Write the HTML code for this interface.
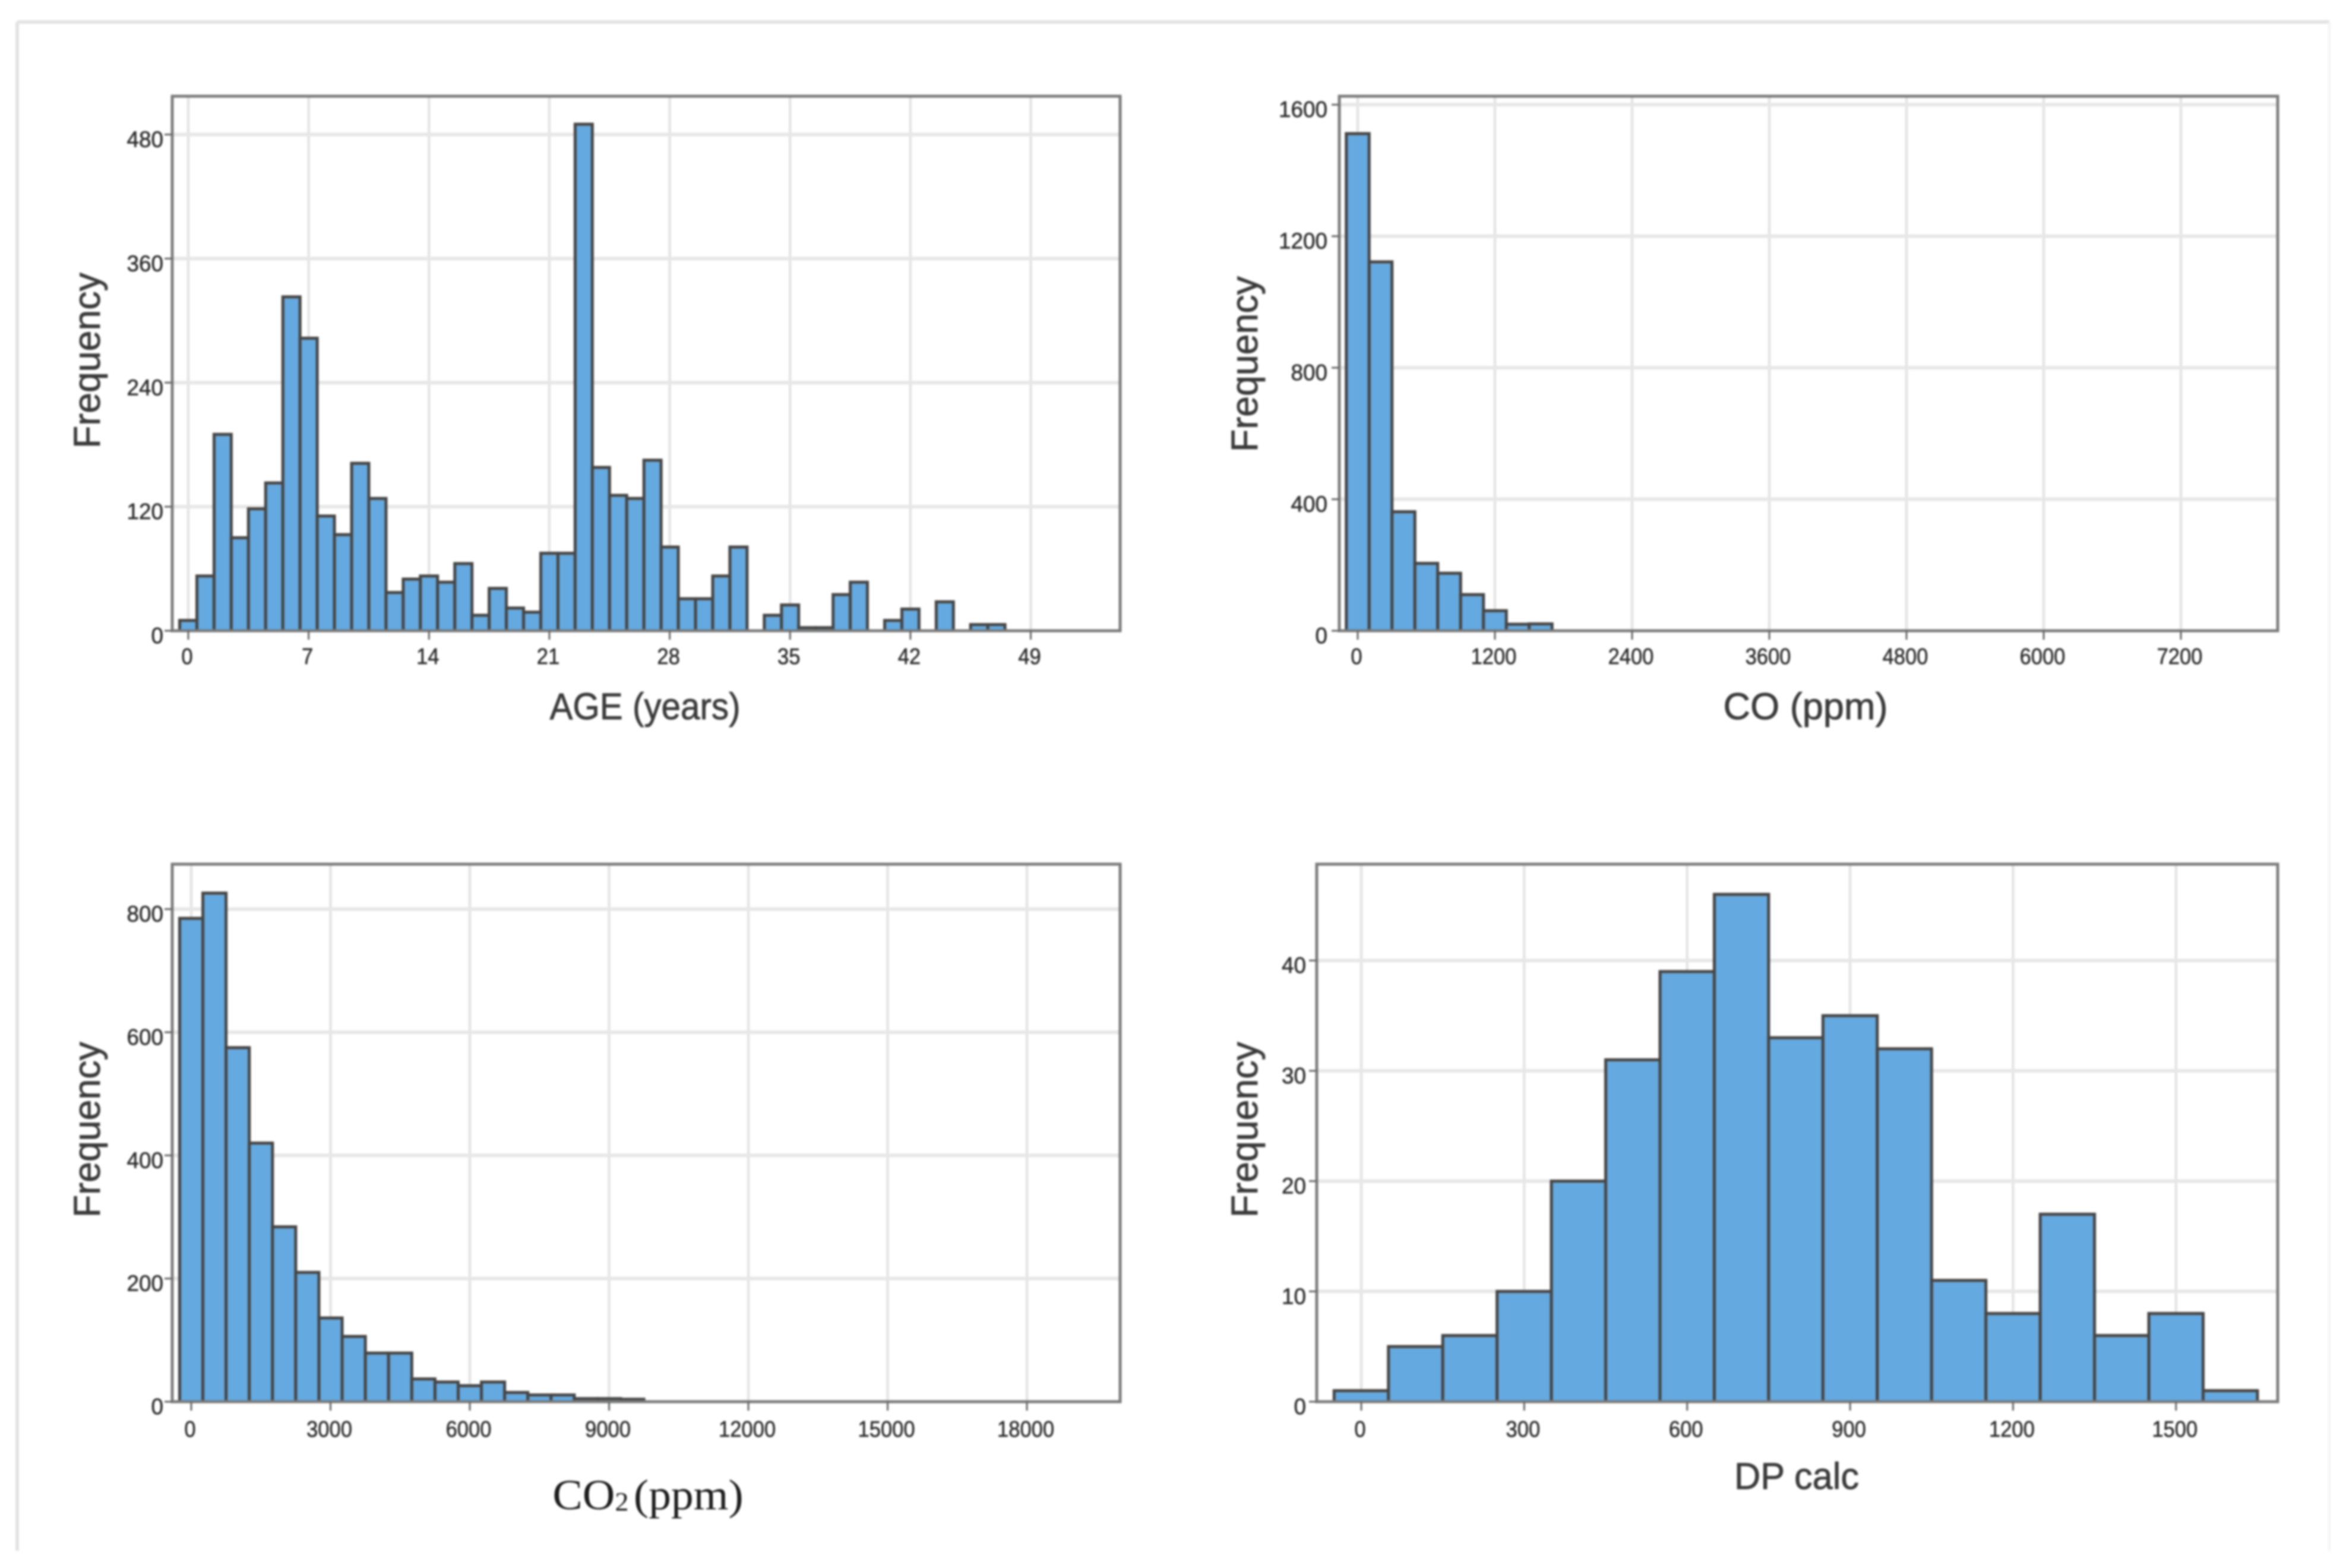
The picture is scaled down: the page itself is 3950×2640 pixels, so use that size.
<!DOCTYPE html>
<html lang="en">
<head>
<meta charset="utf-8">
<title>Histograms of AGE, CO, CO2 and DP calc</title>
<style>
html,body{margin:0;padding:0;background:#fff;width:3950px;height:2640px;overflow:hidden}
svg{display:block;filter:blur(1.7px)}
text{font-family:"Liberation Sans",sans-serif;fill:#333}
.title{font-size:63px;fill:#3a3a3a;stroke:#3a3a3a;stroke-width:.8px}
.serif{font-family:"Liberation Serif",serif;font-size:72px;fill:#1c1c1c;word-spacing:-10px}
.tick{font-size:38px;fill:#2c2c2c;stroke:#2c2c2c;stroke-width:.6px}
</style>
</head>
<body>
<svg id="figure" xmlns="http://www.w3.org/2000/svg" width="3950" height="2640" viewBox="0 0 3950 2640">
  <g>
    <line x1="29" y1="37" x2="3922" y2="37" stroke="#e3e3e3" stroke-width="6"/>
    <line x1="29" y1="37" x2="29" y2="2611" stroke="#e3e3e3" stroke-width="6"/>
    <line x1="3922" y1="37" x2="3922" y2="2611" stroke="#f4f4f4" stroke-width="4"/>
  </g>

  <g id="panel-age"></g>
  <g id="panel-co"></g>
  <g id="panel-co2"></g>
  <g id="panel-dp"></g>

  <text class="title" transform="translate(168,607) rotate(-90)" text-anchor="middle" textLength="296" lengthAdjust="spacingAndGlyphs">Frequency</text>
  <text class="title" x="1086" y="1211" text-anchor="middle" textLength="321" lengthAdjust="spacingAndGlyphs">AGE (years)</text>

  <text class="title" transform="translate(2117,613) rotate(-90)" text-anchor="middle" textLength="296" lengthAdjust="spacingAndGlyphs">Frequency</text>
  <text class="title" x="3040" y="1211" text-anchor="middle" textLength="277" lengthAdjust="spacingAndGlyphs">CO (ppm)</text>

  <text class="title" transform="translate(168,1902) rotate(-90)" text-anchor="middle" textLength="296" lengthAdjust="spacingAndGlyphs">Frequency</text>
  <text class="serif" transform="translate(1091,2541) scale(1.05,1)" text-anchor="middle">CO<tspan font-size="44" dy="2">2</tspan><tspan dy="-2"> (ppm)</tspan></text>

  <text class="title" transform="translate(2117,1902) rotate(-90)" text-anchor="middle" textLength="296" lengthAdjust="spacingAndGlyphs">Frequency</text>
  <text class="title" x="3025" y="2507" text-anchor="middle" textLength="210" lengthAdjust="spacingAndGlyphs">DP calc</text>
</svg>

<script>
// ----- AGE (years) -----
const ageBins = [0,1,2,3,4,5,6,7,8,9,10,11,12,13,14,15,16,17,18,19,20,21,22,23,24,25,26,27,28,29,30,31,32,33,34,35,36,37,38,39,40,41,42,43,44,45,46,47,48,49,50,51,52,53];
const ageCounts = [10,53,190,90,118,143,323,283,111,93,162,128,37,50,53,47,65,15,41,22,18,75,75,490,158,131,128,165,81,31,31,53,81,0,15,25,3,3,35,47,0,10,21,0,28,0,6,6,0,0,0,0,0,0];
const ageXTicks = [0,7,14,21,28,35,42,49];
const ageYTicks = [0,120,240,360,480];

// ----- CO (ppm) -----
const coBins = [0,200,400,600,800,1000,1200,1400,1600,1800,2000,2200,2400,2600,2800,3000,3200,3400,3600,3800,4000,4200,4400,4600,4800,5000,5200,5400,5600,5800,6000,6200,6400,6600,6800,7000,7200,7400,7600,7800];
const coCounts = [1512,1122,362,205,175,110,61,20,21,0,0,0,0,0,0,0,0,0,0,0,0,0,0,0,0,0,0,0,0,0,0,0,0,0,0,0,0,0,0,0];
const coXTicks = [0,1200,2400,3600,4800,6000,7200];
const coYTicks = [0,400,800,1200,1600];

// ----- CO2 (ppm) -----
const co2Bins = [0,500,1000,1500,2000,2500,3000,3500,4000,4500,5000,5500,6000,6500,7000,7500,8000,8500,9000,9500,10000,10500,11000,11500,12000,12500,13000,13500,14000,14500,15000,15500,16000,16500,17000,17500,18000,18500,19000,19500];
const co2Counts = [785,826,575,420,284,210,136,106,79,79,37,32,26,32,15,11,11,5,5,4,0,0,0,0,0,0,0,0,0,0,0,0,0,0,0,0,0,0,0,0];
const co2XTicks = [0,3000,6000,9000,12000,15000,18000];
const co2YTicks = [0,200,400,600,800];

// ----- DP calc -----
const dpBins = [0,100,200,300,400,500,600,700,800,900,1000,1100,1200,1300,1400,1500,1600];
const dpCounts = [1,5,6,10,20,31,39,46,33,35,32,11,8,17,6,8,1];
const dpXTicks = [0,300,600,900,1200,1500];
const dpYTicks = [0,10,20,30,40];

const SVG_NS = 'http://www.w3.org/2000/svg';

function make(tag, attrs, parent) {
  const el = document.createElementNS(SVG_NS, tag);
  for (const k in attrs) el.setAttribute(k, attrs[k]);
  parent.appendChild(el);
  return el;
}

function drawHistogram(cfg, bins, counts, binWidth, xTicks, yTicks) {
  const root = document.getElementById(cfg.id);
  const xScale = v => cfg.xZero + v * cfg.xPerUnit;
  const yScale = v => cfg.bottom - v * cfg.yPerUnit;

  xTicks.forEach(t => {
    const grid = make('line', {x1: xScale(t), x2: xScale(t), y1: cfg.top, y2: cfg.bottom, stroke: '#e4e4e4', 'stroke-width': 4.5}, root);
    
    
  });
  yTicks.forEach(t => {
    if (t === 0) return;
    const grid = make('line', {x1: cfg.left, x2: cfg.right, y1: yScale(t), y2: yScale(t), stroke: '#e7e7e7', 'stroke-width': 6}, root);
    
    
  });

  bins.forEach((b, i) => {
    const x0 = xScale(b - binWidth / 2);
    const x1 = xScale(b + binWidth / 2);
    const yTop = yScale(counts[i]);
    const bar = make('rect', {x: x0, y: yTop, width: x1 - x0, height: cfg.bottom - yTop, fill: '#64a9e0', stroke: '#454545', 'stroke-width': 5}, root);
    
    
  });

  const frame = make('rect', {x: cfg.left, y: cfg.top, width: cfg.right - cfg.left, height: cfg.bottom - cfg.top, fill: 'none', stroke: '#7c7c7c', 'stroke-width': 5}, root);
  
  

  xTicks.forEach(t => {
    const mark = make('line', {x1: xScale(t), x2: xScale(t), y1: cfg.bottom, y2: cfg.bottom + 15, stroke: '#666', 'stroke-width': 3}, root);
    
    
    const text = String(t);
    const label = make('text', {x: xScale(t) - 2, y: cfg.bottom + cfg.xLabelOffset, 'text-anchor': 'middle', class: 'tick', textLength: text.length * 19.2, lengthAdjust: 'spacingAndGlyphs'}, root);
    
    
    label.textContent = text;
  });
  yTicks.forEach(t => {
    const mark = make('line', {x1: cfg.left - 13, x2: cfg.left, y1: yScale(t), y2: yScale(t), stroke: '#666', 'stroke-width': 3}, root);
    
    
    const text = String(t);
    const label = make('text', {x: cfg.yLabelRight, y: yScale(t) + 21, 'text-anchor': 'end', class: 'tick', textLength: text.length * 20.5, lengthAdjust: 'spacingAndGlyphs'}, root);
    
    
    label.textContent = text;
  });
}

drawHistogram({id: 'panel-age', left: 290, right: 1886, top: 162, bottom: 1062, xZero: 317, xPerUnit: 28.95, yPerUnit: 1.7406, xLabelOffset: 56, yLabelRight: 275},
  ageBins, ageCounts, 1, ageXTicks, ageYTicks);
drawHistogram({id: 'panel-co', left: 2255, right: 3835, top: 162, bottom: 1062, xZero: 2286, xPerUnit: 0.1925, yPerUnit: 0.5536, xLabelOffset: 56, yLabelRight: 2235},
  coBins, coCounts, 200, coXTicks, coYTicks);
drawHistogram({id: 'panel-co2', left: 290, right: 1886, top: 1455, bottom: 2360, xZero: 322, xPerUnit: 0.07817, yPerUnit: 1.0367, xLabelOffset: 59, yLabelRight: 275},
  co2Bins, co2Counts, 500, co2XTicks, co2YTicks);
drawHistogram({id: 'panel-dp', left: 2217, right: 3835, top: 1455, bottom: 2360, xZero: 2292, xPerUnit: 0.9145, yPerUnit: 18.57, xLabelOffset: 59, yLabelRight: 2199},
  dpBins, dpCounts, 100, dpXTicks, dpYTicks);
</script>
</body>
</html>
